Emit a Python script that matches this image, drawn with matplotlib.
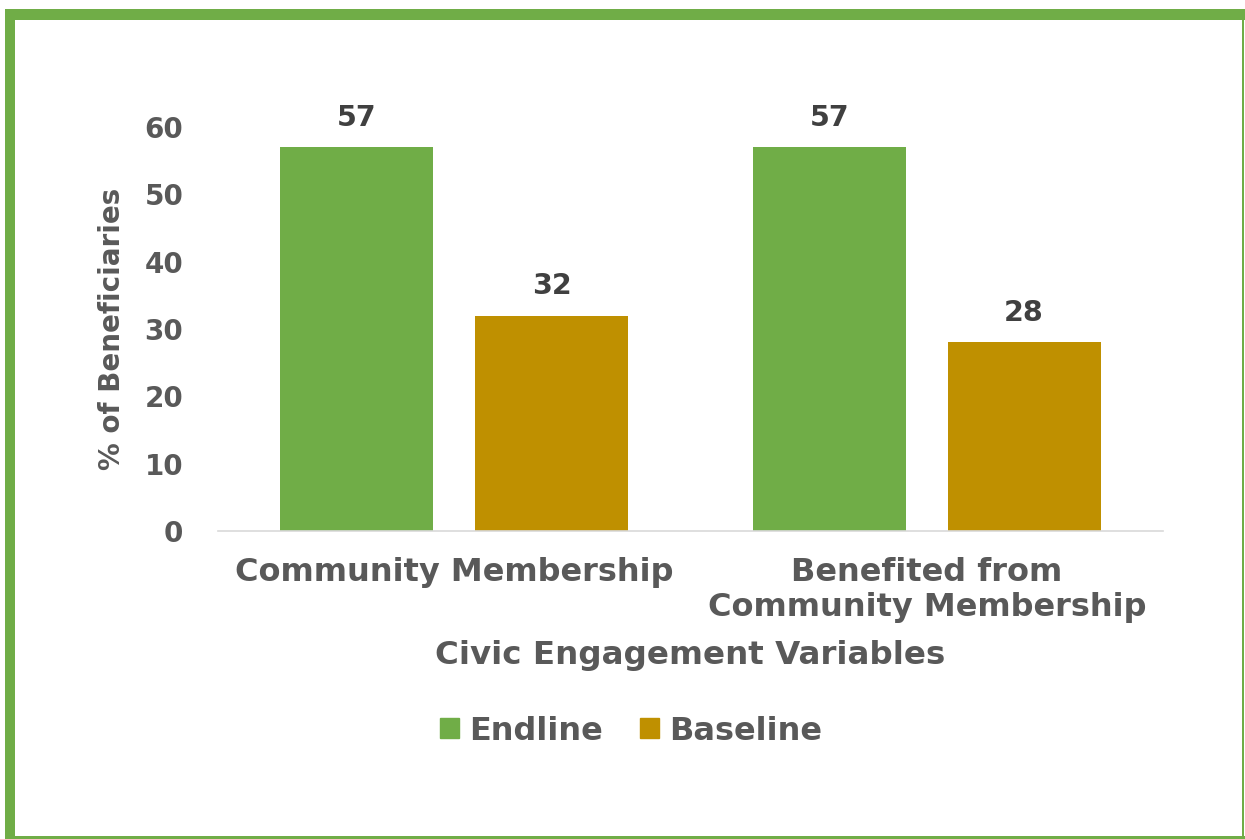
import matplotlib.pyplot as plt
from matplotlib.patches import Rectangle

categories = ["Community Membership", "Benefited from\nCommunity Membership"]
endline = [57, 57]
baseline = [32, 28]
series_names = ["Endline", "Baseline"]
y_ticks = [0, 10, 20, 30, 40, 50, 60]

GREEN = "#70AD47"
GOLD = "#BF9000"
TEXT = "#595959"
LABEL = "#404040"
FONT = "DejaVu Sans"

W, H = 1245, 839
fig = plt.figure(figsize=(W / 100, H / 100), dpi=100)
fig.patch.set_facecolor("white")

ax = fig.add_axes([218 / W, 1 - 531 / H, (1163 - 218) / W, (531 - 127) / H])
x = list(range(len(categories)))
bw = 0.324
off = 0.206
b1 = ax.bar([i - off for i in x], endline, bw, color=GREEN, zorder=2)
b2 = ax.bar([i + off for i in x], baseline, bw, color=GOLD, zorder=2)

for bars, vals in ((b1, endline), (b2, baseline)):
    for r, v in zip(bars, vals):
        ax.annotate(f"{v}", (r.get_x() + r.get_width() / 2, v), xytext=(0, 11),
                    textcoords="offset points", ha="center", va="bottom",
                    fontsize=20.5, fontweight="bold", color=LABEL, family=FONT)

ax.set_xlim(-0.5, 1.5)
ax.set_ylim(0, 60)
ax.set_yticks(y_ticks)
ax.set_xticks(x)
ax.set_xticklabels(categories, fontsize=23, fontweight="bold", color=TEXT,
                   family=FONT, linespacing=1.13)
for lab in ax.get_yticklabels():
    lab.set_fontsize(20)
    lab.set_fontweight("bold")
    lab.set_color(TEXT)
    lab.set_family(FONT)
ax.tick_params(axis="both", length=0)
ax.tick_params(axis="y", pad=25)
ax.tick_params(axis="x", pad=19)
for s in ("top", "right", "left"):
    ax.spines[s].set_visible(False)
ax.spines["bottom"].set_color("#D9D9D9")
ax.spines["bottom"].set_linewidth(1.2)

ax.set_ylabel("% of Beneficiaries", fontsize=20, fontweight="bold", color=TEXT,
              family=FONT, va="center", ha="center")
ax.yaxis.set_label_coords((112 - 218) / (1163 - 218), 0.5)
ax.set_xlabel("Civic Engagement Variables", fontsize=23.4, fontweight="bold",
              color=TEXT, family=FONT, va="baseline")
ax.xaxis.set_label_coords(0.5, -(664 - 531) / (531 - 127))

handles = [Rectangle((0, 0), 1, 1, color=GREEN), Rectangle((0, 0), 1, 1, color=GOLD)]
leg = fig.legend(handles, series_names, loc="center", bbox_to_anchor=(631 / W, 1 - 731 / H),
                 ncol=2, frameon=False, handlelength=0.6, handleheight=0.6,
                 handletextpad=0.32, columnspacing=1.15, borderpad=0,
                 prop={"family": FONT, "weight": "bold", "size": 23})
for t in leg.get_texts():
    t.set_color(TEXT)

# green frame around the figure
def frame(x0, y0, x1, y1):
    fig.patches.append(Rectangle((x0 / W, 1 - y1 / H), (x1 - x0) / W, (y1 - y0) / H,
                                 transform=fig.transFigure, color=GREEN, lw=0, zorder=10))

frame(5, 9, 1245, 20)
frame(5, 9, 15, 839)
frame(1242, 9, 1244, 839)
frame(5, 836, 1245, 839)

fig.savefig("out.png", dpi=100, facecolor="white")
